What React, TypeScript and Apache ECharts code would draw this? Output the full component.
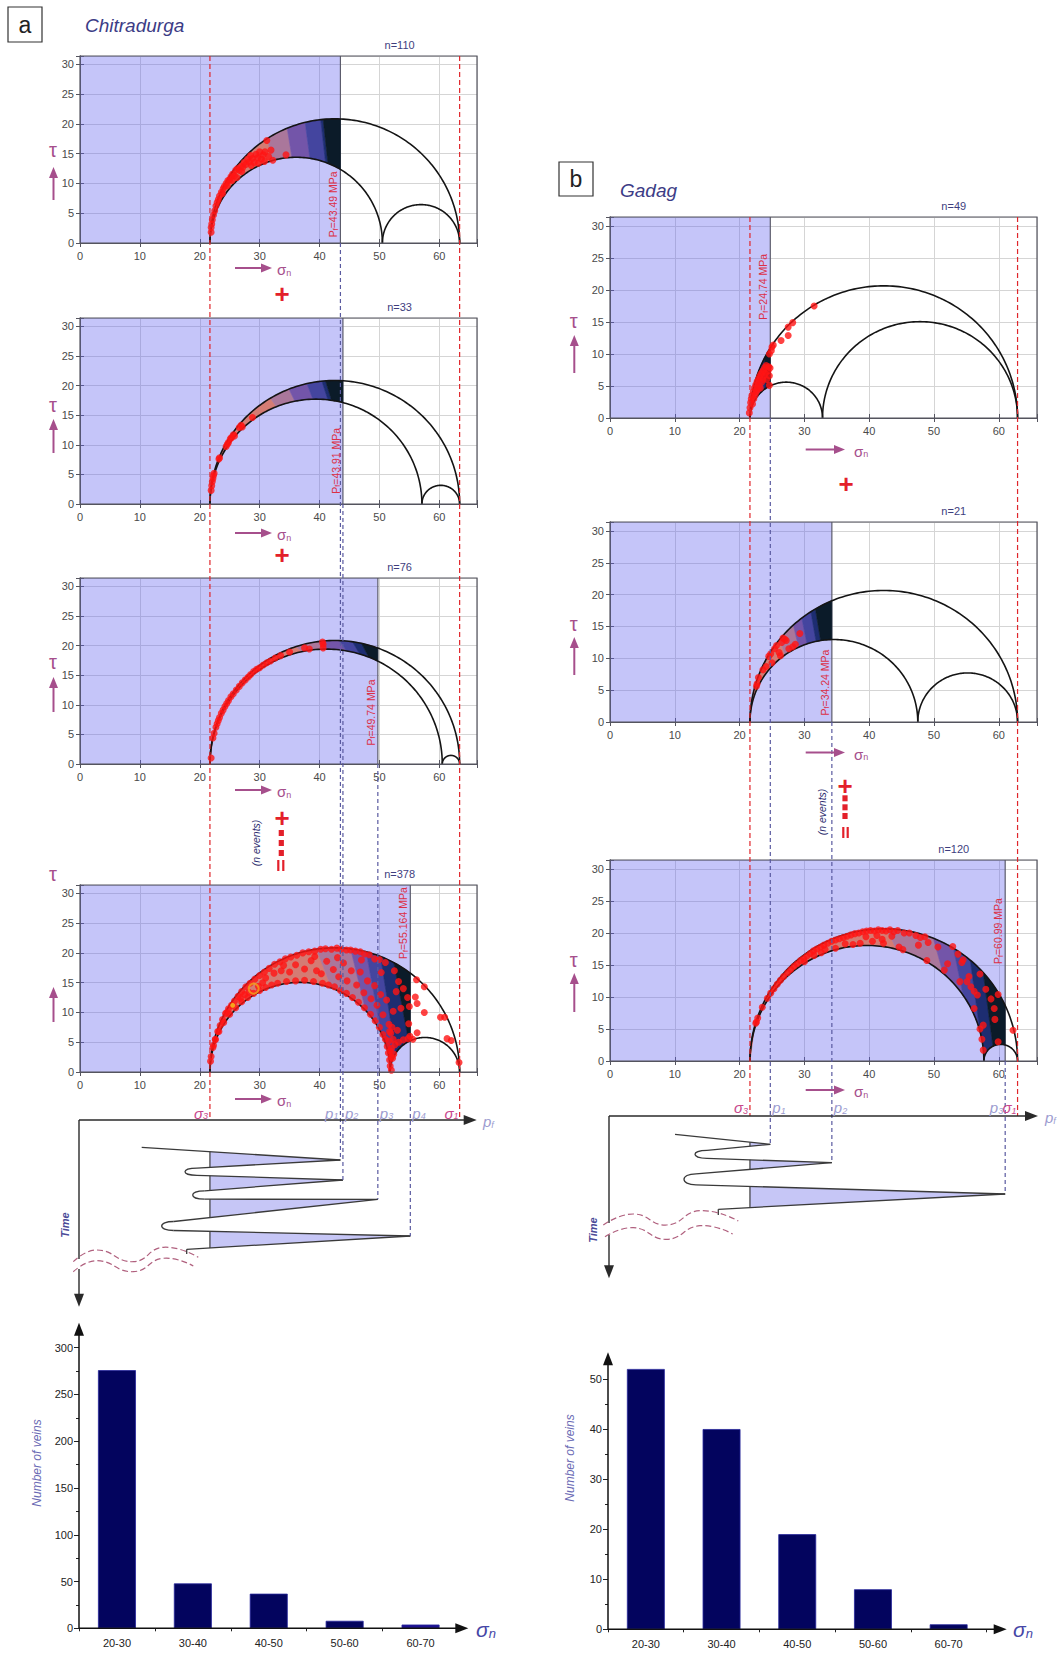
import React, { useEffect, useRef } from "react";
import * as echarts from "echarts";

const FONT = "'Liberation Sans', Arial, Helvetica, sans-serif";

// ---------- Chitradurga (a) ----------
const chitraSigma1 = 63.4;
const chitraSigma3 = 21.7;
const chitraSigma2 = [50.5, 57.1, 60.5, 51.8];
const chitraPf = [43.49, 43.91, 49.74, 55.164];
const chitraPfText = ["43.49", "43.91", "49.74", "55.164"];
const chitraN = [110, 33, 76, 378];
// σn where the colour bands change along the outer circle
const chitraBandEdges = [
  [31.3, 34.6, 37.6, 40.2, 40.6],
  [31.8, 34.9, 37.9, 40.4, 41.0],
  [36.0, 40.0, 43.3, 45.5, 47.0],
  [39.5, 45.2, 47.8, 50.2, 52.4],
];
const chitraBandLean = [0.8, 1.0, 1.2, 2.5];

const chitraDotsStage1 = [
  [21.9, 1.8], [21.9, 2.6], [22.0, 3.2], [22.1, 3.9], [22.3, 4.7], [22.5, 5.4], [22.7, 6.2], [22.9, 6.8],
  [23.1, 7.3], [23.3, 7.9], [23.6, 8.5], [23.8, 8.3], [23.9, 9.1], [24.1, 9.5], [24.4, 10.0], [24.6, 9.6],
  [24.7, 10.5], [25.0, 10.6], [25.2, 11.1], [25.4, 10.5], [25.5, 11.6], [25.8, 11.3], [26.0, 12.2], [26.2, 11.0],
  [26.3, 12.5], [26.6, 12.2], [26.9, 12.9], [27.0, 12.0], [27.2, 12.7], [27.4, 13.5], [27.7, 13.2], [28.0, 14.1],
  [28.3, 13.6], [28.5, 14.7], [28.6, 13.0], [28.8, 14.2], [29.1, 13.5], [29.4, 14.9], [29.7, 14.3], [29.8, 13.4],
  [30.0, 15.3], [30.3, 14.1], [30.6, 14.8], [30.8, 13.7], [30.9, 15.3], [31.2, 17.2], [31.5, 14.5], [31.9, 15.6],
  [32.2, 13.9], [34.4, 14.8],
];
const chitraDotsStage2 = [
  [21.9, 2.3], [22.0, 3.1], [22.1, 3.8], [22.2, 4.3], [22.3, 4.8], [22.4, 5.2], [23.2, 7.6], [23.3, 7.8],
  [24.4, 9.7], [24.6, 10.1], [24.8, 10.4], [25.1, 11.0], [25.3, 11.2], [25.6, 11.7], [25.8, 11.5], [26.6, 12.9],
  [26.9, 13.3], [27.1, 13.0], [28.8, 14.6],
];
const chitraDotsStage3 = [
  [21.9, 1.0], [22.2, 4.4], [22.4, 5.2], [22.7, 6.2], [22.9, 6.8], [23.1, 7.35], [23.3, 7.85], [23.6, 8.55],
  [23.9, 9.1], [24.2, 9.7], [24.5, 10.2], [24.8, 10.7], [25.2, 11.35], [25.6, 11.85], [26.1, 12.5], [26.6, 13.1],
  [27.1, 13.7], [27.6, 14.2], [28.1, 14.7], [28.5, 15.1], [29.0, 15.6], [29.5, 16.0], [30.0, 16.25], [30.6, 16.7],
  [31.2, 17.1], [31.8, 17.4], [32.6, 17.9], [33.5, 18.3], [35.0, 18.9], [37.5, 19.6], [38.3, 19.4], [40.6, 19.6],
  [40.6, 20.2], [40.5, 20.6],
];
const chitraDotsStage4 = [
  // along the outer circle
  [21.8, 1.8], [21.9, 2.6], [22.3, 4.5], [22.6, 5.5], [23.0, 6.8], [23.4, 7.8], [23.8, 8.8], [24.3, 9.8],
  [24.8, 10.6], [25.3, 11.2], [25.8, 11.9], [26.4, 12.7], [27.0, 13.5], [27.7, 14.3], [28.4, 14.9], [29.2, 15.6],
  [30.0, 16.2], [30.8, 16.8], [31.6, 17.4], [32.5, 18.1], [33.4, 18.5], [34.3, 19.0], [35.2, 19.3], [36.2, 19.6],
  [37.2, 20.0], [38.2, 20.2], [39.2, 20.3], [40.2, 20.6], [41.0, 20.7], [42.0, 20.6], [42.9, 20.8], [43.6, 20.6],
  [44.5, 20.5], [45.2, 20.5], [46.0, 20.3], [46.8, 20.2], [47.5, 19.8], [48.3, 19.7], [49.2, 19.0], [50.0, 18.9],
  [51.0, 18.4], [52.5, 17.0], [53.2, 15.2],
  // along the inner circles
  [22.2, 4.1], [22.6, 5.4], [23.2, 6.8], [24.0, 8.3], [25.0, 9.7], [26.0, 10.8], [27.0, 11.8], [28.0, 12.5],
  [29.0, 13.2], [30.0, 13.7], [31.0, 14.2], [32.0, 14.6], [33.0, 14.9], [34.5, 15.2], [36.0, 15.3], [37.5, 15.4],
  [39.0, 15.2], [40.5, 14.9], [41.5, 14.6], [42.5, 14.3], [43.5, 13.7], [44.5, 13.2], [45.5, 12.5], [46.5, 11.7],
  [47.5, 10.8], [48.5, 9.7], [49.3, 8.6], [50.0, 7.5], [50.6, 6.3], [51.0, 5.5], [51.3, 4.3], [51.5, 3.2],
  [51.7, 2.0], [51.8, 1.0], [52.0, 0.3], [52.2, 2.3], [52.4, 3.0], [52.0, 4.0], [51.6, 5.2], [52.6, 4.6],
  [53.2, 5.0], [54.0, 5.4], [54.8, 5.6], [55.1, 6.0], [51.9, 6.5], [52.1, 7.5], [51.7, 6.8], [52.3, 5.5],
  [51.8, 3.5], [52.0, 2.5],
  // inside the band
  [24.5, 10.0], [26.8, 12.4], [28.2, 13.4], [29.8, 14.4], [31.0, 15.8], [32.4, 16.6], [33.6, 17.0], [35.0, 16.8],
  [36.0, 18.0], [37.5, 17.3], [38.6, 18.7], [39.5, 17.0], [40.3, 16.5], [41.2, 18.6], [42.3, 17.2], [43.2, 16.0],
  [44.0, 18.3], [44.6, 15.3], [45.3, 17.0], [46.2, 14.6], [46.8, 16.8], [47.4, 13.3], [48.0, 15.3], [48.6, 12.3],
  [49.2, 14.5], [49.6, 11.2], [50.2, 13.0], [50.6, 9.6], [51.2, 12.1], [51.6, 8.0], [52.3, 10.2], [52.8, 13.5],
  [53.6, 10.7], [54.0, 14.0], [54.9, 8.1], [53.0, 7.0], [50.3, 16.7], [47.0, 18.8], [43.0, 19.2], [39.2, 19.4],
  [34.0, 17.9], [30.5, 15.0], [27.5, 13.0], [55.0, 11.0], [54.7, 12.5],
  // beyond the fluid pressure
  [56.2, 15.5], [57.5, 14.3], [56.0, 12.6], [56.3, 11.5], [57.5, 10.0], [60.2, 9.2], [60.9, 9.2], [61.3, 5.6],
  [62.0, 5.3], [56.3, 6.6], [55.6, 5.5], [63.3, 1.6],
];
const chitraRingPoint = [[29.0, 14.0]];
const chitraYellowPoint = [[25.5, 11.2]];

// ---------- Gadag (b) ----------
const gadagSigma1 = 62.9;
const gadagSigma3 = 21.6;
const gadagSigma2 = [32.8, 47.5, 57.7];
const gadagPf = [24.74, 34.24, 60.99];
const gadagPfText = ["24.74", "34.24", "60.99"];
const gadagN = [49, 21, 120];
const gadagBandEdges = [
  [22.2, 22.6, 23.0, 23.4, 23.8],
  [26.2, 28.3, 29.6, 31.0, 31.7],
  [42.7, 49.9, 53.0, 55.6, 57.6],
];
const gadagBandLean = [0.3, 0.8, 1.5];

const gadagDotsStage1 = [
  [21.5, 0.8], [21.6, 1.6], [21.7, 2.4], [21.8, 3.0], [21.9, 3.5], [22.0, 2.2], [22.1, 4.1], [22.2, 3.0],
  [22.3, 4.7], [22.4, 3.6], [22.5, 5.2], [22.6, 4.1], [22.7, 5.7], [22.8, 4.5], [22.9, 6.1], [23.0, 5.0],
  [23.1, 6.5], [23.2, 4.7], [23.3, 6.9], [23.4, 5.6], [23.5, 7.2], [23.6, 6.0], [23.7, 7.5], [23.8, 6.6],
  [23.9, 7.9], [24.0, 7.0], [24.1, 8.2], [24.2, 6.0], [24.4, 7.4], [24.5, 8.0], [24.6, 6.6], [24.6, 5.1],
  [24.7, 7.8], [24.6, 10.0], [24.9, 10.5], [25.0, 11.1], [25.2, 11.4], [26.4, 12.1], [27.5, 12.9], [27.5, 14.2],
  [28.2, 14.9], [31.5, 17.5],
];
const gadagDotsStage2 = [
  [22.6, 5.6], [22.7, 6.0], [22.9, 7.0], [23.6, 8.2], [24.1, 8.7], [24.5, 10.3], [24.8, 10.7], [25.0, 9.3],
  [25.4, 11.5], [25.7, 12.0], [26.1, 10.9], [26.3, 10.4], [26.5, 12.5], [26.7, 13.2], [27.0, 13.0], [27.2, 12.8],
  [27.6, 11.5], [28.2, 11.8], [28.6, 12.2], [29.3, 13.9],
];
const gadagDotsStage3 = [
  [22.5, 5.9], [22.6, 6.1], [22.8, 6.7], [23.5, 8.4], [24.3, 9.8], [24.8, 10.6], [25.3, 11.3], [25.8, 12.0],
  [26.3, 12.6], [26.8, 13.2], [27.4, 13.8], [27.9, 14.3], [28.4, 14.8], [28.9, 15.2], [29.4, 15.7], [29.9, 16.0],
  [30.4, 16.4], [30.9, 16.8], [31.4, 17.2], [31.9, 17.5], [32.5, 17.8], [33.0, 18.1], [33.6, 18.4], [34.2, 18.7],
  [34.8, 18.9], [35.4, 19.1], [36.0, 19.3], [36.6, 19.5], [37.2, 19.7], [37.8, 19.9], [38.4, 20.0], [39.0, 20.2],
  [39.6, 20.3], [40.2, 20.4], [40.8, 20.3], [41.4, 20.5], [42.0, 20.4], [42.6, 20.3], [43.2, 20.5], [43.8, 20.2],
  [44.4, 20.4], [45.4, 20.0], [46.2, 20.0], [47.2, 19.6], [47.9, 19.3], [48.6, 19.4],
  [30.0, 15.5], [31.5, 16.5], [32.6, 16.9], [33.2, 17.4], [34.8, 17.6], [36.3, 18.3], [37.5, 18.2], [38.6, 18.4],
  [39.5, 19.4], [40.5, 18.7], [41.2, 19.6], [42.2, 18.4], [42.0, 19.0], [43.5, 19.5], [44.6, 17.8], [45.2, 17.4],
  [47.6, 18.1], [48.9, 15.7], [49.1, 18.5], [50.6, 17.8], [51.6, 14.2], [52.1, 15.2], [52.9, 17.9], [53.7, 16.7],
  [54.3, 15.4], [54.5, 15.8], [54.0, 12.4], [55.1, 12.4], [55.4, 13.2], [55.7, 11.6], [56.2, 10.9], [56.2, 8.2],
  [56.7, 10.3], [57.1, 13.6], [57.1, 5.0], [57.6, 5.6], [57.6, 1.7], [57.4, 3.4], [58.0, 11.2], [58.8, 9.7],
  [59.3, 8.2], [59.4, 6.5], [59.9, 3.0], [59.9, 10.4], [62.2, 4.8],
];

// ---------- vein counts per σn class ----------
const veinClasses = ["20-30", "30-40", "40-50", "50-60", "60-70"];
const chitraVeins = [276, 48, 37, 8, 4];
const gadagVeins = [52, 40, 19, 8, 1];

// ---------- layout ----------
const YMAX = 31.4;
const chitraXMax = 66.3;
const gadagXMax = 65.9;
const chitraGrids = [
  { left: 80, top: 56, width: 397, height: 187 },
  { left: 80, top: 318, width: 397, height: 186 },
  { left: 80, top: 578, width: 397, height: 186 },
  { left: 80, top: 885, width: 397, height: 187 },
];
const gadagGrids = [
  { left: 610, top: 217, width: 427, height: 201 },
  { left: 610, top: 522, width: 427, height: 200 },
  { left: 610, top: 860, width: 427, height: 201 },
];
const chitraPfLabelTau = [6.5, 7.3, 8.7, 25.0];
const gadagPfLabelTau = [20.5, 6.2, 20.3];
const chitraTauLayout = [[94, 144, 111], [87, 135, 101], [84, 134, 99], [-11, 137, 102]];
const gadagTauLayout = [[104, 156, 118], [102, 153, 115], [100, 152, 113]];
const chitraSnOffset = [25, 29, 26, 27];
const gadagSnOffset = [31.5, 30.5, 29];

const bandColors = ["#d47c74", "#aa779b", "#7355a9", "#44459f", "#1d2d71", "#0b1b29"];
const PURPLE = "#a64f8c";
const RED_DASH = "#e0262b";
const BLUE_DASH = "#5a5aa0";
const PF_RED = "#dc2f45";

const chitraDots = [chitraDotsStage1, chitraDotsStage2, chitraDotsStage3, chitraDotsStage4];
const gadagDots = [gadagDotsStage1, gadagDotsStage2, gadagDotsStage3];

const panels: any[] = [
  ...chitraPf.map((pf, i) => ({
    s1: chitraSigma1, s3: chitraSigma3, s2: chitraSigma2[i], pf, edges: chitraBandEdges[i],
    lean: chitraBandLean[i], dots: chitraDots[i], grid: chitraGrids[i], xMax: chitraXMax,
  })),
  ...gadagPf.map((pf, i) => ({
    s1: gadagSigma1, s3: gadagSigma3, s2: gadagSigma2[i], pf, edges: gadagBandEdges[i],
    lean: gadagBandLean[i], dots: gadagDots[i], grid: gadagGrids[i], xMax: gadagXMax,
  })),
];

function arcHeight(lo: number, hi: number, s: number) {
  const c = (lo + hi) / 2;
  const r = (hi - lo) / 2;
  const d = r * r - (s - c) * (s - c);
  return d > 0 ? Math.sqrt(d) : 0;
}

function sampleRange(a: number, b: number, extra: number[], n = 36) {
  const pts: number[] = [];
  for (let i = 0; i <= n; i++) pts.push(a + ((b - a) * i) / n);
  extra.forEach((e) => {
    if ((e - a) * (e - b) < 0) pts.push(e);
  });
  pts.sort((x, y) => (a < b ? x - y : y - x));
  return pts;
}

function buildOption() {
  const grid: any[] = [];
  const xAxis: any[] = [];
  const yAxis: any[] = [];
  const series: any[] = [];
  const frameColor = "#55555f";

  panels.forEach((p, i) => {
    grid.push({ ...p.grid, containLabel: false });
    const base = { type: "value", gridIndex: i, min: 0 };
    const line = { show: true, lineStyle: { color: frameColor, width: 1 } };
    const tick = { show: true, inside: true, length: 4, lineStyle: { color: frameColor } };
    xAxis.push({
      ...base, max: p.xMax, interval: 10, position: "bottom", axisLine: line, axisTick: tick,
      splitLine: { show: true, lineStyle: { color: "#d5d5d5" } },
      axisLabel: { fontSize: 11, color: "#4a4a4a", margin: 7, formatter: (v: number) => (v % 10 === 0 ? String(v) : "") },
    });
    xAxis.push({
      ...base, max: p.xMax, interval: 10, position: "top", axisLine: line, axisTick: tick,
      splitLine: { show: false }, axisLabel: { show: false },
    });
    yAxis.push({
      ...base, max: YMAX, interval: 5, position: "left", axisLine: line, axisTick: tick,
      splitLine: { show: true, lineStyle: { color: "#d5d5d5" } },
      axisLabel: { fontSize: 11, color: "#4a4a4a", margin: 6, formatter: (v: number) => (v % 5 === 0 ? String(v) : "") },
    });
    yAxis.push({
      ...base, max: YMAX, interval: 5, position: "right", axisLine: line, axisTick: tick,
      splitLine: { show: false }, axisLabel: { show: false },
    });
    const ax = { xAxisIndex: 2 * i, yAxisIndex: 2 * i };

    // region below the fluid pressure
    series.push({
      type: "custom", ...ax, z: 1, silent: true, data: [[p.pf, 0]],
      renderItem: (params: any, api: any) => {
        const tl = api.coord([0, YMAX]);
        const br = api.coord([api.value(0), 0]);
        return {
          type: "group",
          children: [
            { type: "rect", shape: { x: tl[0], y: tl[1], width: br[0] - tl[0], height: br[1] - tl[1] }, style: { fill: "rgba(98,98,238,0.37)" } },
            { type: "line", shape: { x1: br[0], y1: tl[1], x2: br[0], y2: br[1] }, style: { stroke: "#5c5c6c", lineWidth: 1.2 } },
          ],
        };
      },
    });

    // colour bands between the outer and inner Mohr circles, up to Pf
    const O = [p.s3, ...p.edges, p.pf];
    const I = [p.s3, ...p.edges.map((e: number) => Math.max(p.s3, Math.min(p.pf, e + p.lean))), p.pf];
    const outer = (s: number) => arcHeight(p.s3, p.s1, s);
    const inner = (s: number) => (s <= p.s2 ? arcHeight(p.s3, p.s2, s) : arcHeight(p.s2, p.s1, s));
    series.push({
      type: "custom", ...ax, z: 2, silent: true,
      data: bandColors.map((_, k) => [k, 0]),
      renderItem: (params: any, api: any) => {
        const k = api.value(0);
        const pts: number[][] = [];
        sampleRange(O[k], O[k + 1], []).forEach((s) => pts.push(api.coord([s, outer(s)])));
        sampleRange(I[k + 1], I[k], [p.s2]).forEach((s) => pts.push(api.coord([s, inner(s)])));
        return { type: "polygon", shape: { points: pts }, style: { fill: bandColors[k], stroke: bandColors[k], lineWidth: 0.6 } };
      },
    });

    // Mohr circles
    series.push({
      type: "custom", ...ax, z: 3, silent: true,
      data: [[p.s3, p.s1], [p.s3, p.s2], [p.s2, p.s1]],
      renderItem: (params: any, api: any) => {
        const lo = api.value(0);
        const hi = api.value(1);
        const c = (lo + hi) / 2;
        const r = (hi - lo) / 2;
        const pts: number[][] = [];
        for (let j = 0; j <= 140; j++) {
          const t = (Math.PI * j) / 140;
          pts.push(api.coord([c - r * Math.cos(t), r * Math.sin(t)]));
        }
        return { type: "polyline", shape: { points: pts }, style: { stroke: "#141414", lineWidth: 1.6, fill: "none" } };
      },
    });

    // veins
    series.push({
      type: "scatter", ...ax, z: 4, silent: true, data: p.dots, symbolSize: 7,
      itemStyle: { color: "#ff1414" },
    });

    // plot frame
    series.push({
      type: "custom", ...ax, z: 5, silent: true, data: [[0, 0]],
      renderItem: (params: any, api: any) => {
        const tl = api.coord([0, YMAX]);
        const br = api.coord([p.xMax, 0]);
        return { type: "rect", shape: { x: tl[0], y: tl[1], width: br[0] - tl[0], height: br[1] - tl[1] }, style: { fill: "none", stroke: frameColor, lineWidth: 1.2 } };
      },
    });
  });

  // highlighted veins in the cumulative Chitradurga plot
  series.push({
    type: "scatter", xAxisIndex: 6, yAxisIndex: 6, z: 4, silent: true, data: chitraRingPoint,
    symbol: "circle", symbolSize: 10, itemStyle: { color: "rgba(0,0,0,0)", borderColor: "#f2a21a", borderWidth: 2 },
  });
  series.push({
    type: "scatter", xAxisIndex: 6, yAxisIndex: 6, z: 4, silent: true, data: chitraYellowPoint,
    symbolSize: 5, itemStyle: { color: "#f5c61c" },
  });

  // histograms
  const histGrids = [
    { left: 79, top: 1347.7, width: 379.5, height: 280.6 },
    { left: 608, top: 1379, width: 378.5, height: 250.3 },
  ];
  const histMax = [300, 50];
  const histStep = [50, 10];
  const histData = [chitraVeins, gadagVeins];
  histGrids.forEach((g, h) => {
    const gi = panels.length + h;
    grid.push({ ...g, containLabel: false });
    xAxis.push({
      type: "category", gridIndex: gi, data: veinClasses, axisLine: { show: false },
      axisTick: { show: true, length: 3, lineStyle: { color: "#222" } },
      axisLabel: { fontSize: 11, color: "#222", margin: 9 },
    });
    yAxis.push({
      type: "value", gridIndex: gi, min: 0, max: histMax[h], interval: histStep[h],
      axisLine: { show: false }, splitLine: { show: false },
      axisTick: { show: true, length: 5, lineStyle: { color: "#222" } },
      minorTick: { show: true, splitNumber: 2, length: 3, lineStyle: { color: "#222" } },
      axisLabel: { fontSize: 11, color: "#222", margin: 6 },
    });
    series.push({
      type: "bar", xAxisIndex: 2 * panels.length + h, yAxisIndex: 2 * panels.length + h,
      data: histData[h], barWidth: "50%", silent: true, clip: false,
      itemStyle: {
        color: (prm: any) => (h === 0 && prm.dataIndex === 4 ? "#1d1190" : "#03045e"),
        borderColor: "#26269a", borderWidth: 0.8,
      },
    });
  });

  return { animation: false, textStyle: { fontFamily: FONT }, grid, xAxis, yAxis, series };
}

// ---------- annotation helpers ----------
function arrow(x1: number, y1: number, x2: number, y2: number, color: string, w: number, headL: number, headW: number) {
  const dx = x2 - x1;
  const dy = y2 - y1;
  const L = Math.hypot(dx, dy);
  const ux = dx / L;
  const uy = dy / L;
  const bx = x2 - ux * headL;
  const by = y2 - uy * headL;
  return [
    { type: "line", z: 60, silent: true, shape: { x1, y1, x2: bx + ux, y2: by + uy }, style: { stroke: color, lineWidth: w } },
    {
      type: "polygon", z: 60, silent: true,
      shape: { points: [[x2, y2], [bx - (uy * headW) / 2, by + (ux * headW) / 2], [bx + (uy * headW) / 2, by - (ux * headW) / 2]] },
      style: { fill: color },
    },
  ];
}

function text(x: number, y: number, t: string, style: any, extra: any = {}) {
  return { type: "text", x, y, z: 60, silent: true, style: { text: t, fontFamily: FONT, ...style }, ...extra };
}

function dline(x1: number, y1: number, x2: number, y2: number, color: string, dash: number[]) {
  return { type: "line", z: 55, silent: true, shape: { x1, y1, x2, y2 }, style: { stroke: color, lineWidth: 1.2, lineDash: dash } };
}

const chitraTime = {
  start: [141.7, 1147.3],
  peakY: [1160, 1180, 1199.3, 1236],
  turns: [[185, 1171.7, 3.6], [192.7, 1195, 4.2], [161.7, 1226, 4.5]],
  end: [186.7, 1249.3],
  hookY: 1254,
};
const gadagTime = {
  start: [675, 1134.3],
  peakY: [1144.3, 1162.7, 1194],
  turns: [[695, 1154.3, 4], [684, 1179.3, 5.5]],
  end: [718.3, 1209.3],
  hookY: 1215,
};
const chitraWaves = [
  [[73.3, 1261.7], [96.7, 1250], [133.3, 1261.7], [163.3, 1247.3], [198.3, 1257.3]],
  [[73.3, 1271.7], [96.7, 1260.7], [133.3, 1271.7], [163.3, 1258.3], [193.3, 1266]],
];
const gadagWaves = [
  [[603.3, 1225], [633.3, 1214], [666.7, 1225], [700, 1210.7], [738.3, 1221]],
  [[605, 1236.7], [633.3, 1227.7], [666.7, 1239.3], [700, 1225.7], [732.7, 1234]],
];

function timeCurve(sx: number, peaks: number[][], t: any) {
  const els: any[] = [];
  const stroke = { stroke: "#3a3a3a", lineWidth: 1.3, fill: "none" };
  const yAt = (a: number[], b: number[], x: number) => a[1] + ((b[1] - a[1]) * (x - a[0])) / (b[0] - a[0]);
  let prev = t.start;
  peaks.forEach((pk, j) => {
    const hasTurn = j < t.turns.length;
    const turn = hasTurn ? t.turns[j] : null;
    const botTo = hasTurn ? [turn[0] + 12, turn[1] - turn[2]] : t.end;
    if (pk[0] > sx) {
      const yTop = prev[0] < sx ? yAt(prev, pk, sx) : prev[1];
      const yBot = botTo[0] < sx ? yAt(pk, botTo, sx) : botTo[1];
      els.push({ type: "polygon", z: 40, silent: true, shape: { points: [[sx, yTop], pk, [sx, yBot]] }, style: { fill: "#c6c6f6" } });
      els.push({ type: "line", z: 42, silent: true, shape: { x1: sx, y1: yTop, x2: sx, y2: yBot }, style: { stroke: "#3a3a3a", lineWidth: 1.2 } });
    }
    els.push({ type: "line", z: 42, silent: true, shape: { x1: prev[0], y1: prev[1], x2: pk[0], y2: pk[1] }, style: stroke });
    els.push({ type: "line", z: 42, silent: true, shape: { x1: pk[0], y1: pk[1], x2: botTo[0], y2: botTo[1] }, style: stroke });
    if (hasTurn) {
      const [tx, ty, h] = turn;
      els.push({
        type: "bezierCurve", z: 42, silent: true,
        shape: { x1: tx + 12, y1: ty - h, x2: tx + 12, y2: ty + h, cpx1: tx - 4, cpy1: ty - h, cpx2: tx - 4, cpy2: ty + h },
        style: stroke,
      });
      prev = [tx + 12, ty + h];
    }
  });
  els.push({ type: "line", z: 42, silent: true, shape: { x1: t.end[0], y1: t.end[1], x2: t.end[0], y2: t.hookY }, style: stroke });
  return els;
}

function sub(main: string, s: string, color: string, size: number, italic = true) {
  return {
    text: `{m|${main}}{s|${s}}`,
    rich: {
      m: { fontSize: size, fontStyle: italic ? "italic" : "normal", fill: color, color, fontFamily: FONT, verticalAlign: "bottom", lineHeight: size + 3 },
      s: { fontSize: Math.round(size * 0.6), fontStyle: italic ? "italic" : "normal", fill: color, color, fontFamily: FONT, verticalAlign: "bottom", lineHeight: Math.round(size * 0.6) + 1 },
    },
  };
}

function buildGraphics(chart: any) {
  const g: any[] = [];
  const toPx = (gi: number, x: number, y: number) => chart.convertToPixel({ gridIndex: gi }, [x, y]) as number[];

  // panel letters and locality names
  g.push({ type: "rect", z: 60, silent: true, shape: { x: 8, y: 7, width: 34, height: 35 }, style: { fill: "#fff", stroke: "#333", lineWidth: 1.2 } });
  g.push(text(25, 24.5, "a", { fontSize: 23, fill: "#222", align: "center", verticalAlign: "middle" }));
  g.push(text(85, 25, "Chitradurga", { fontSize: 19, fontStyle: "italic", fill: "#3c3c86", verticalAlign: "middle" }));
  g.push({ type: "rect", z: 60, silent: true, shape: { x: 559, y: 162, width: 34, height: 34 }, style: { fill: "#fff", stroke: "#333", lineWidth: 1.2 } });
  g.push(text(576, 179, "b", { fontSize: 23, fill: "#222", align: "center", verticalAlign: "middle" }));
  g.push(text(620, 190, "Gadag", { fontSize: 19, fontStyle: "italic", fill: "#3c3c86", verticalAlign: "middle" }));

  const cols = [
    {
      first: 0, grids: chitraGrids, s3: chitraSigma3, s1: chitraSigma1, pf: chitraPf, pfText: chitraPfText, n: chitraN,
      labelTau: chitraPfLabelTau, tau: chitraTauLayout, tauX: 53, snOff: chitraSnOffset, snX: [235, 272, 277],
      pAxisY: 1120, axisX: 79, pTipX: 476.7, timeTipY: 1306.7, gap: [1259, 1269], labelY: 1111.5,
      pSide: ["left", "right", "right", "right"], time: chitraTime, waves: chitraWaves, timeLabel: [65, 1225], pfAxisLabel: [483, 1120],
      plus: [[282, 294], [282, 555], [282, 818]], dots: [833, 843, 853], dotX: 281.3, eq: [278.3, 283.3, 860, 871], events: [256, 843],
      hist: { x0: 79, y0: 1628.3, yTip: 1322.7, xTip: 468.3, sn: [476, 1628], veins: [36.7, 1463] },
    },
    {
      first: 4, grids: gadagGrids, s3: gadagSigma3, s1: gadagSigma1, pf: gadagPf, pfText: gadagPfText, n: gadagN,
      labelTau: gadagPfLabelTau, tau: gadagTauLayout, tauX: 573.8, snOff: gadagSnOffset, snX: [805.7, 845, 854],
      pAxisY: 1116, axisX: 609, pTipX: 1038, timeTipY: 1278.3, gap: [1223, 1235], labelY: 1106,
      pSide: ["right", "right", "left"], time: gadagTime, waves: gadagWaves, timeLabel: [593.3, 1230], pfAxisLabel: [1045, 1116],
      plus: [[846, 484], [845, 786]], dots: [798.3, 807.3, 816], dotX: 845, eq: [843.3, 847.7, 827, 838], events: [821.7, 812],
      hist: { x0: 608, y0: 1629.3, yTip: 1352.3, xTip: 1006.7, sn: [1013, 1628.3], veins: [570, 1458] },
    },
  ];

  cols.forEach((c) => {
    const sx3 = toPx(c.first, c.s3, 0)[0];
    const sx1 = toPx(c.first, c.s1, 0)[0];
    const top = c.grids[0].top;
    g.push(dline(sx3, top, sx3, c.pAxisY, RED_DASH, [5, 3]));
    g.push(dline(sx1, top, sx1, c.pAxisY, RED_DASH, [5, 3]));

    const peaks: number[][] = [];
    c.pf.forEach((pf: number, i: number) => {
      const gi = c.first + i;
      const gr = c.grids[i];
      const bottom = gr.top + gr.height;
      const px = toPx(gi, pf, 0)[0];
      peaks.push([px, c.time.peakY[i]]);
      g.push(dline(px, bottom, px, c.time.peakY[i], BLUE_DASH, [4, 3]));

      // n label
      g.push(text(gr.left + 0.805 * gr.width, gr.top - 11.5, `n=${c.n[i]}`, { fontSize: 11, fill: "#3e3e7e", align: "center", verticalAlign: "middle" }));
      // Pf label
      const ly = toPx(gi, pf, c.labelTau[i])[1];
      g.push({
        type: "text", z: 60, silent: true, x: px - 8, y: ly, rotation: Math.PI / 2,
        style: {
          text: `{m|P}{s|f}{m|=${c.pfText[i]} MPa}`, align: "center", verticalAlign: "middle",
          rich: {
            m: { fontSize: 10.5, fill: PF_RED, color: PF_RED, fontFamily: FONT, verticalAlign: "bottom", lineHeight: 13 },
            s: { fontSize: 7, fill: PF_RED, color: PF_RED, fontFamily: FONT, verticalAlign: "bottom", lineHeight: 8 },
          },
        },
      });
      // τ axis label and arrow
      const [tOff, aFrom, aTo] = c.tau[i];
      g.push(text(c.tauX, gr.top + tOff, "τ", { fontSize: 20, fill: PURPLE, align: "center", verticalAlign: "middle" }));
      g.push(...arrow(c.tauX + 0.5, gr.top + aFrom, c.tauX + 0.5, gr.top + aTo, PURPLE, 2, 11, 9));
      // σn label and arrow
      const sy = bottom + c.snOff[i];
      g.push(...arrow(c.snX[0], sy, c.snX[1], sy, PURPLE, 2, 11, 9));
      g.push(text(c.snX[2], sy, "", { ...sub("σ", "n", PURPLE, 15, false), verticalAlign: "middle" }));
    });

    // + ... = between stages
    c.plus.forEach((pp: number[]) => g.push(text(pp[0], pp[1], "+", { fontSize: 26, fontWeight: "bold", fill: "#e3202a", align: "center", verticalAlign: "middle" })));
    c.dots.forEach((dy: number) => g.push({ type: "rect", z: 60, silent: true, shape: { x: c.dotX - 2.6, y: dy - 3, width: 5.2, height: 6 }, style: { fill: "#e3202a" } }));
    g.push({ type: "line", z: 60, silent: true, shape: { x1: c.eq[0], y1: c.eq[2], x2: c.eq[0], y2: c.eq[3] }, style: { stroke: "#e3202a", lineWidth: 2.2 } });
    g.push({ type: "line", z: 60, silent: true, shape: { x1: c.eq[1], y1: c.eq[2], x2: c.eq[1], y2: c.eq[3] }, style: { stroke: "#e3202a", lineWidth: 2.2 } });
    g.push({
      type: "text", z: 60, silent: true, x: c.events[0], y: c.events[1], rotation: Math.PI / 2,
      style: { text: "(n events)", fontFamily: FONT, fontSize: 10.5, fontStyle: "italic", fill: "#2b2b6e", align: "center", verticalAlign: "middle" },
    });

    // pressure axis
    g.push(...arrow(c.axisX, c.pAxisY, c.pTipX, c.pAxisY, "#2a2a2a", 1.4, 13, 10));
    g.push(text(c.pfAxisLabel[0], c.pfAxisLabel[1], "", { ...sub("p", "f", "#9c9cd0", 15), verticalAlign: "middle" }));
    g.push(text(sx3 - 2, c.labelY, "", { ...sub("σ", "3", "#c8468c", 15), align: "right", verticalAlign: "middle" }));
    g.push(text(sx1 - 1, c.labelY, "", { ...sub("σ", "1", "#c8468c", 15), align: "right", verticalAlign: "middle" }));
    peaks.forEach((pk, i) => {
      const left = c.pSide[i] === "left";
      g.push(text(left ? pk[0] - 2 : pk[0] + 2, c.labelY, "", { ...sub("p", String(i + 1), "#9c9cd0", 15), align: left ? "right" : "left", verticalAlign: "middle" }));
    });

    // time axis with break
    g.push({ type: "line", z: 60, silent: true, shape: { x1: c.axisX, y1: c.pAxisY, x2: c.axisX, y2: c.gap[0] }, style: { stroke: "#2a2a2a", lineWidth: 1.4 } });
    g.push(...arrow(c.axisX, c.gap[1], c.axisX, c.timeTipY, "#2a2a2a", 1.4, 13, 10));
    c.waves.forEach((w: number[][]) =>
      g.push({ type: "polyline", z: 60, silent: true, shape: { points: w, smooth: 0.5 }, style: { stroke: "#b0607e", lineWidth: 1.2, lineDash: [6, 3], fill: "none" } })
    );
    g.push({
      type: "text", z: 60, silent: true, x: c.timeLabel[0], y: c.timeLabel[1], rotation: Math.PI / 2,
      style: { text: "Time", fontFamily: FONT, fontSize: 11, fontStyle: "italic", fontWeight: "bold", fill: "#4b4b98", align: "center", verticalAlign: "middle" },
    });
    g.push(...timeCurve(sx3, peaks, c.time));

    // histogram axes
    const h = c.hist;
    g.push(...arrow(h.x0, h.y0, h.x0, h.yTip, "#111", 1.5, 13, 10));
    g.push(...arrow(h.x0, h.y0, h.xTip, h.y0, "#111", 1.5, 13, 10));
    g.push(text(h.sn[0], h.sn[1], "", { ...sub("σ", "n", "#4646a6", 21), verticalAlign: "middle" }));
    g.push({
      type: "text", z: 60, silent: true, x: h.veins[0], y: h.veins[1], rotation: Math.PI / 2,
      style: { text: "Number of veins", fontFamily: FONT, fontSize: 12, fontStyle: "italic", fill: "#6a6ab4", align: "center", verticalAlign: "middle" },
    });
  });

  return g;
}

export default function App() {
  const ref = useRef<HTMLDivElement>(null);
  useEffect(() => {
    const el = ref.current;
    if (!el) return;
    const chart = echarts.init(el, null, { renderer: "svg" });
    chart.setOption(buildOption());
    chart.setOption({ graphic: buildGraphics(chart) });
    return () => chart.dispose();
  }, []);
  return <div ref={ref} style={{ position: "absolute", left: 0, top: 0, width: 1057, height: 1653, background: "#fff" }} />;
}
